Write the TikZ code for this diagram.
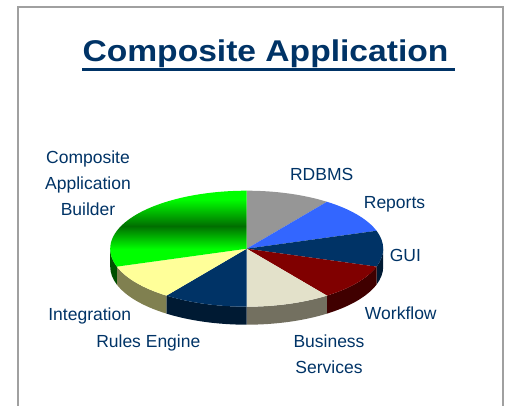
\documentclass[tikz,border=0pt]{standalone}
\usepackage{fontspec}
\setmainfont{Liberation Sans}
\newfontfamily\titlefont[FakeStretch=1.12]{Liberation Sans}
\usetikzlibrary{calc}
\definecolor{txt}{RGB}{0,51,102}
\definecolor{framegray}{RGB}{160,160,160}
\definecolor{cgray}{RGB}{150,150,150}
\definecolor{cblue}{RGB}{51,102,255}
\definecolor{cnavy}{RGB}{0,51,102}
\definecolor{cmaroon}{RGB}{128,0,0}
\definecolor{cbeige}{RGB}{227,225,202}
\definecolor{cyellow}{RGB}{255,255,153}
\definecolor{cgreen}{RGB}{0,255,0}
\definecolor{cdkgreen}{RGB}{0,110,0}
\definecolor{snavy}{RGB}{0,26,51}
\definecolor{smaroon}{RGB}{64,0,0}
\definecolor{sbeige}{RGB}{115,112,96}
\definecolor{syellow}{RGB}{128,128,80}
\definecolor{sgreen}{RGB}{0,80,0}
\newcommand\pieside[3]{\fill[#3] ($(c)+(#1:136.5pt and 58pt)$) arc[start angle=#1,end angle=#2,x radius=136.5pt,y radius=58pt] -- ++(0,-18) arc[start angle=#2,end angle=#1,x radius=136.5pt,y radius=58pt] -- cycle;}
\newcommand\pietop[3]{\fill[#3] (c) -- ($(c)+(#1:136.5pt and 58pt)$) arc[start angle=#1,end angle=#2,x radius=136.5pt,y radius=58pt] -- cycle;}
\tikzset{
  lbl/.style={text=txt,inner sep=0pt,font=\fontsize{17.5}{26}\selectfont},
  frameline/.style={draw=framegray,line width=1.5pt}
}
\begin{document}
\begin{tikzpicture}[x=1pt,y=1pt]
\useasboundingbox (0,0) rectangle (505,406);
\draw[frameline] (18,-2) -- (18,399) -- (503,399) -- (503,-2);
% title
\node[text=txt,inner sep=0pt,anchor=base,font=\titlefont\bfseries\fontsize{30}{36}\selectfont] (title) at (265.5,344.5) {Composite Application};
\draw[txt,line width=2.5pt] (82,336.5) -- (455,336.5);
% pie
\coordinate (c) at (246.7,157.3);
\pieside{-18}{0}{snavy}
\pieside{-54}{-18}{smaroon}
\pieside{-90}{-54}{sbeige}
\pieside{-126}{-90}{snavy}
\pieside{-162}{-126}{syellow}
\pieside{180}{198}{sgreen}
\pietop{54}{90}{cgray}
\pietop{18}{54}{cblue}
\pietop{-18}{18}{cnavy}
\pietop{-54}{-18}{cmaroon}
\pietop{-90}{-54}{cbeige}
\pietop{-126}{-90}{cnavy}
\pietop{-162}{-126}{cyellow}
\begin{scope}
  \clip (c) -- ($(c)+(90:136.5pt and 58pt)$) arc[start angle=90,end angle=198,x radius=136.5pt,y radius=58pt] -- cycle;
  \foreach \yy in {138,...,218}{
    \pgfmathsetmacro\ff{100*min(1,abs(\yy-179)/((\yy>179) ? 27 : 23))}
    \fill[cgreen!\ff!cdkgreen] (100,\yy-0.5) rectangle (250,\yy+0.6);
  }
\end{scope}
% labels
\node[lbl,align=center,anchor=north] (builder) at (88,255.7) {Composite\\Application\\Builder};
\node[lbl,anchor=base] (rdbms) at (321.7,225) {RDBMS};
\node[lbl,anchor=base] (reports) at (394.5,197.7) {Reports};
\node[lbl,anchor=base] (gui) at (405.3,144.3) {GUI};
\node[lbl,anchor=base] (workflow) at (400.8,86.7) {Workflow};
\node[lbl,anchor=base] (integration) at (89.7,85.3) {Integration};
\node[lbl,anchor=base] (rules) at (148.3,58.3) {Rules Engine};
\node[lbl,align=center,anchor=north] (business) at (329,71) {Business\\Services};
\end{tikzpicture}
\end{document}
